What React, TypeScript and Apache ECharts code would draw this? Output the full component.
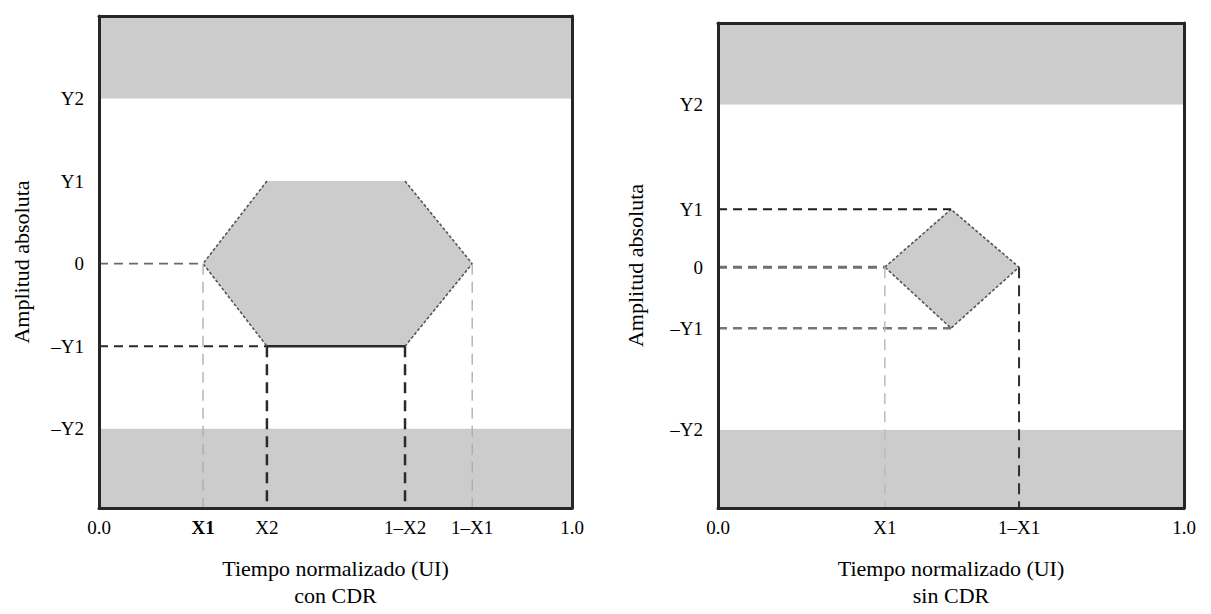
import { useEffect, useRef } from "react";
import * as echarts from "echarts";

const FONT = "Liberation Serif";

// vertical range (units of the amplitude axis)
const Y_MIN = -2.96;
const Y_MAX = 3;

// ---- left panel: con CDR ----
const L_X1 = 0.22;
const L_X2 = 0.355;
const L_1mX2 = 0.647;
const L_1mX1 = 0.789;
const L_Y1 = 1;
const L_Y2 = 2;
const leftXTicks = [0, L_X1, L_X2, L_1mX2, L_1mX1, 1];
const leftXLabels = ["0.0", "{b|X1}", "X2", "1–X2", "1–X1", "1.0"];
const leftYTickVals = [-L_Y2, -L_Y1, 0, L_Y1, L_Y2];
const leftYLabels = ["–Y2", "–Y1", "0", "Y1", "Y2"];
const leftMask = [
  [L_X1, 0],
  [L_X2, L_Y1],
  [L_1mX2, L_Y1],
  [L_1mX1, 0],
  [L_1mX2, -L_Y1],
  [L_X2, -L_Y1],
];
const leftBands = [
  [0, L_Y2, 1, Y_MAX],
  [0, Y_MIN, 1, -L_Y2],
];

// ---- right panel: sin CDR ----
const R_X1 = 0.358;
const R_MID = 0.5;
const R_1mX1 = 0.646;
const R_Y1 = 0.71;
const R_mY1 = -0.75;
const R_Y2 = 2;
const rightXTicks = [0, R_X1, R_1mX1, 1];
const rightXLabels = ["0.0", "X1", "1–X1", "1.0"];
const rightYTickVals = [-R_Y2, R_mY1, 0, R_Y1, R_Y2];
const rightYLabels = ["–Y2", "–Y1", "0", "Y1", "Y2"];
const rightMask = [
  [R_X1, 0],
  [R_MID, R_Y1],
  [R_1mX1, 0],
  [R_MID, R_mY1],
];
const rightBands = [
  [0, R_Y2, 1, Y_MAX],
  [0, Y_MIN, 1, -R_Y2],
];

function pick(ticks: number[], labels: string[]) {
  return (v: number) => {
    const i = ticks.findIndex((t) => Math.abs(t - v) < 1e-6);
    return i >= 0 ? labels[i] : "";
  };
}

const BORDER = { show: true, onZero: false, lineStyle: { color: "#262626", width: 3 } };

function xAxes(gridIndex: number, ticks: number[], labels: string[], sub: string) {
  return [
    {
      type: "value",
      gridIndex,
      min: 0,
      max: 1,
      position: "bottom",
      z: 10,
      axisLine: BORDER,
      axisTick: { show: false },
      splitLine: { show: false },
      axisLabel: {
        customValues: ticks,
        formatter: pick(ticks, labels),
        color: "#000",
        fontFamily: FONT,
        fontSize: 19,
        margin: 10,
        rich: { b: { fontWeight: "bold", fontFamily: FONT, fontSize: 19, color: "#000" } },
      },
      name: "Tiempo normalizado (UI)\n" + sub,
      nameLocation: "middle",
      nameGap: 47,
      nameTextStyle: { color: "#000", fontFamily: FONT, fontSize: 22, lineHeight: 27 },
    },
    {
      type: "value",
      gridIndex,
      min: 0,
      max: 1,
      position: "top",
      z: 10,
      axisLine: BORDER,
      axisTick: { show: false },
      axisLabel: { show: false },
      splitLine: { show: false },
    },
  ];
}

function yAxes(gridIndex: number, ticks: number[], labels: string[], gap: number) {
  return [
    {
      type: "value",
      gridIndex,
      min: Y_MIN,
      max: Y_MAX,
      position: "left",
      z: 10,
      axisLine: BORDER,
      axisTick: { show: false },
      splitLine: { show: false },
      axisLabel: {
        customValues: ticks,
        formatter: pick(ticks, labels),
        color: "#000",
        fontFamily: FONT,
        fontSize: 19,
        margin: 15,
      },
      name: "Amplitud absoluta",
      nameLocation: "middle",
      nameGap: gap,
      nameTextStyle: { color: "#000", fontFamily: FONT, fontSize: 22 },
    },
    {
      type: "value",
      gridIndex,
      min: Y_MIN,
      max: Y_MAX,
      position: "right",
      z: 10,
      axisLine: BORDER,
      axisTick: { show: false },
      axisLabel: { show: false },
      splitLine: { show: false },
    },
  ];
}

function bandSeries(xi: number, yi: number, bands: number[][]) {
  return {
    type: "custom",
    xAxisIndex: xi,
    yAxisIndex: yi,
    silent: true,
    z: 1,
    data: bands,
    renderItem: (_p: any, api: any) => {
      const a = api.coord([api.value(0), api.value(3)]);
      const b = api.coord([api.value(2), api.value(1)]);
      return {
        type: "rect",
        shape: { x: a[0], y: a[1], width: b[0] - a[0], height: b[1] - a[1] },
        style: { fill: "#cccccc" },
      };
    },
  };
}

function maskSeries(xi: number, yi: number, pts: number[][]) {
  return {
    type: "custom",
    xAxisIndex: xi,
    yAxisIndex: yi,
    silent: true,
    z: 2,
    data: pts,
    renderItem: (p: any, api: any) => {
      if (p.dataIndex !== 0) return { type: "group", children: [] };
      return {
        type: "polygon",
        shape: { points: pts.map((q) => api.coord(q)) },
        style: { fill: "#cccccc" },
      };
    },
  };
}

function seg(xi: number, yi: number, data: number[][], color: string, width: number, type: any) {
  return {
    type: "line",
    xAxisIndex: xi,
    yAxisIndex: yi,
    silent: true,
    symbol: "none",
    z: 3,
    data,
    lineStyle: { color, width, type },
  };
}

const DASH = [9, 6];

export default function App() {
  const ref = useRef<HTMLDivElement>(null);
  useEffect(() => {
    if (!ref.current) return;
    const chart = echarts.init(ref.current, undefined, { renderer: "svg" });
    chart.setOption({
      animation: false,
      backgroundColor: "#ffffff",
      textStyle: { fontFamily: FONT },
      grid: [
        { left: 99, top: 16, width: 473, height: 501 },
        { left: 718, top: 23, width: 466, height: 494 },
      ],
      xAxis: [
        ...xAxes(0, leftXTicks, leftXLabels, "con CDR"),
        ...xAxes(1, rightXTicks, rightXLabels, "sin CDR"),
      ],
      yAxis: [
        ...yAxes(0, leftYTickVals, leftYLabels, 67),
        ...yAxes(1, rightYTickVals, rightYLabels, 72),
      ],
      series: [
        // left
        bandSeries(0, 0, leftBands),
        maskSeries(0, 0, leftMask),
        seg(0, 0, [leftMask[1], leftMask[0], leftMask[5]], "#555555", 1.6, [3, 2]),
        seg(0, 0, [leftMask[2], leftMask[3], leftMask[4]], "#555555", 1.6, [3, 2]),
        seg(0, 0, [leftMask[5], leftMask[4]], "#2a2a2a", 2.5, "solid"),
        seg(0, 0, [[0, 0], leftMask[0]], "#6a6a6a", 1.6, DASH),
        seg(0, 0, [[0, -L_Y1], leftMask[5]], "#2a2a2a", 2, DASH),
        seg(0, 0, [[L_X1, 0], [L_X1, Y_MIN]], "#aaaaaa", 1.3, [11, 7]),
        seg(0, 0, [[L_1mX1, 0], [L_1mX1, Y_MIN]], "#aaaaaa", 1.3, [11, 7]),
        seg(0, 0, [[L_X2, -L_Y1], [L_X2, Y_MIN]], "#2a2a2a", 2.5, [11, 7]),
        seg(0, 0, [[L_1mX2, -L_Y1], [L_1mX2, Y_MIN]], "#2a2a2a", 2.5, [11, 7]),
        // right
        bandSeries(2, 2, rightBands),
        maskSeries(2, 2, rightMask),
        seg(2, 2, [...rightMask, rightMask[0]], "#555555", 1.6, [3, 2]),
        seg(2, 2, [[0, R_Y1], rightMask[1]], "#1f1f1f", 2, DASH),
        seg(2, 2, [[0, 0], rightMask[0]], "#6f6f6f", 3, DASH),
        seg(2, 2, [[0, R_mY1], rightMask[3]], "#777777", 2.5, DASH),
        seg(2, 2, [[R_X1, 0], [R_X1, Y_MIN]], "#bbbbbb", 1.5, [11, 7]),
        seg(2, 2, [[R_1mX1, 0], [R_1mX1, Y_MIN]], "#2f2f2f", 2, [11, 7]),
      ],
    });
    return () => chart.dispose();
  }, []);
  return (
    <div
      ref={ref}
      style={{ position: "fixed", left: 0, top: 0, width: 1211, height: 614, background: "#fff" }}
    />
  );
}
